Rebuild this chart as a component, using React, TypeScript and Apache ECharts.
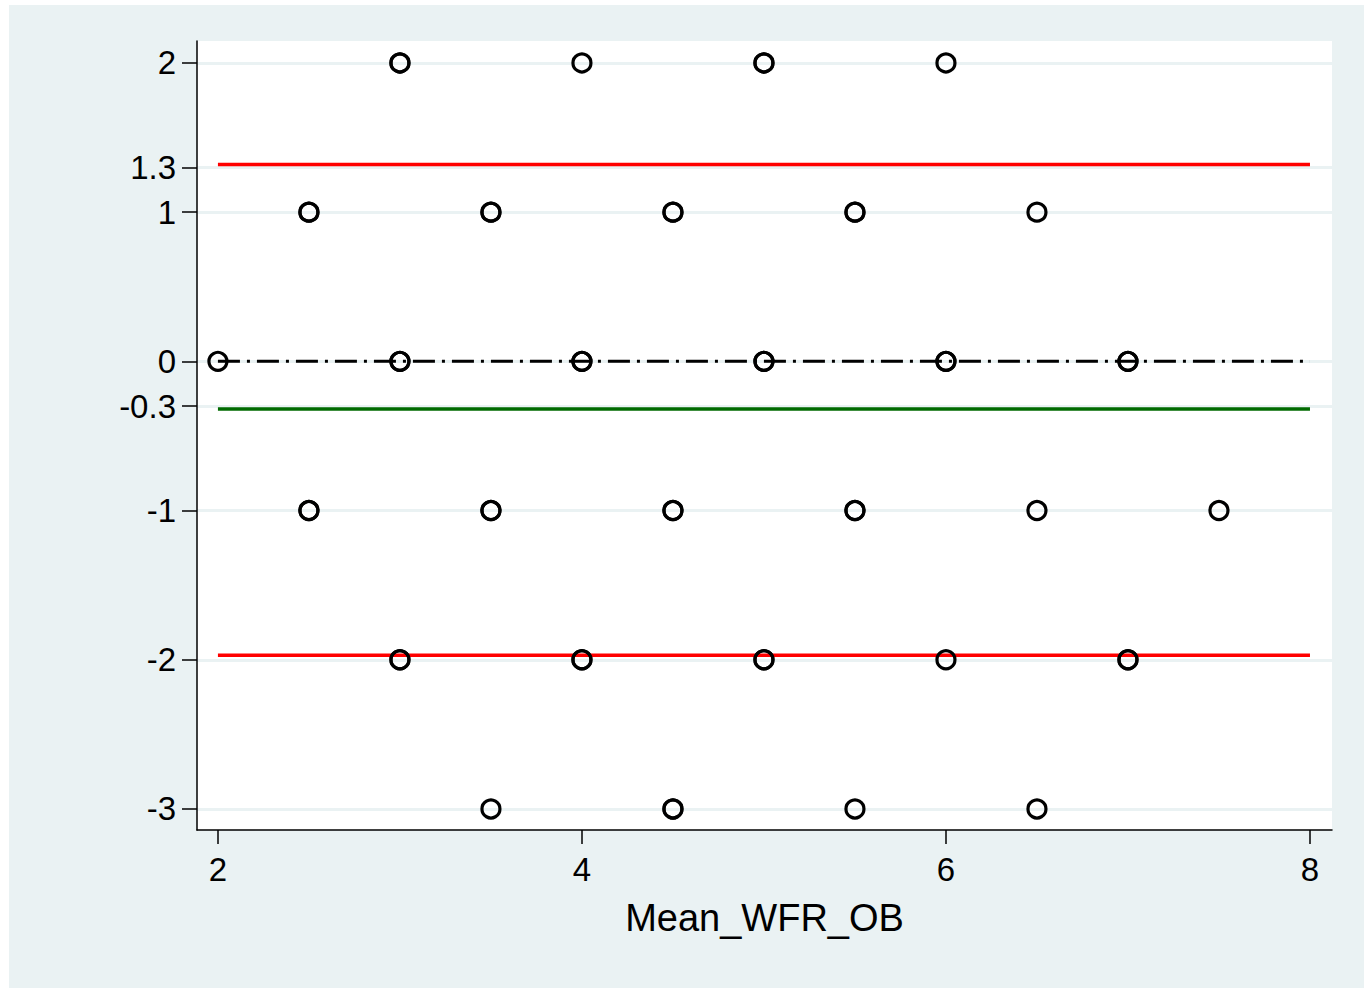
import React, { useEffect, useRef } from "react";
import * as echarts from "echarts";

// Observations: [mean, difference]; repeated pairs are listed twice
const points: number[][] = [
  [3, 2], [3, 2], [4, 2], [5, 2], [5, 2], [6, 2],
  [2.5, 1], [2.5, 1], [3.5, 1], [3.5, 1], [4.5, 1], [4.5, 1], [5.5, 1], [5.5, 1], [6.5, 1],
  [2, 0], [3, 0], [3, 0], [4, 0], [4, 0], [5, 0], [5, 0], [6, 0], [6, 0], [7, 0], [7, 0],
  [2.5, -1], [2.5, -1], [3.5, -1], [3.5, -1], [4.5, -1], [4.5, -1], [5.5, -1], [5.5, -1], [6.5, -1], [7.5, -1],
  [3, -2], [3, -2], [4, -2], [4, -2], [5, -2], [5, -2], [6, -2], [7, -2], [7, -2],
  [3.5, -3], [4.5, -3], [4.5, -3], [5.5, -3], [6.5, -3],
];

const xTicks = [2, 4, 6, 8];
const yTicks = [-3, -2, -1, -0.3, 0, 1, 1.3, 2];
const xRange = [2, 8];
const meanDiff = -0.32;
const upperLoA = 1.32;
const lowerLoA = -1.97;
const zeroLine = 0;
const xMin = 1.885;
const xMax = 8.121;
const yMin = -3.141;
const yMax = 2.147;
const xTitle = "Mean_WFR_OB";

export default function App() {
  const ref = useRef<HTMLDivElement>(null);
  useEffect(() => {
    if (!ref.current) return;
    const chart = echarts.init(ref.current, undefined, { renderer: "svg" });
    const font = "'Liberation Sans', Arial, sans-serif";
    const hline = (v: number) => [[xRange[0], v], [xRange[1], v]];
    chart.setOption({
      animation: false,
      backgroundColor: "#EAF2F3",
      textStyle: { fontFamily: font },
      grid: {
        left: 188,
        top: 36,
        right: 32,
        bottom: 158,
        show: true,
        backgroundColor: "#ffffff",
        borderWidth: 0,
      },
      xAxis: {
        type: "value",
        min: xMin,
        max: xMax,
        name: xTitle,
        nameLocation: "middle",
        nameGap: 69,
        nameTextStyle: { fontSize: 38, color: "#000", fontFamily: font },
        axisLine: { show: true, onZero: false, lineStyle: { color: "#000", width: 1.5 } },
        axisTick: { show: true, inside: false, length: 14, customValues: xTicks, lineStyle: { color: "#000", width: 1.5 } },
        axisLabel: { customValues: xTicks, fontSize: 33, color: "#000", margin: 23, fontFamily: font },
        splitLine: { show: false },
      },
      yAxis: {
        type: "value",
        min: yMin,
        max: yMax,
        axisLine: { show: true, onZero: false, lineStyle: { color: "#000", width: 1.5 } },
        axisTick: { show: true, inside: false, length: 15, customValues: yTicks, lineStyle: { color: "#000", width: 1.5 } },
        axisLabel: { customValues: yTicks, fontSize: 33, color: "#000", margin: 21, fontFamily: font },
        splitLine: { show: false },
      },
      series: [
        {
          type: "line",
          data: [],
          silent: true,
          z: 0,
          markLine: {
            silent: true,
            z: 0,
            symbol: "none",
            label: { show: false },
            lineStyle: { color: "#EAF2F3", width: 3, type: "solid" },
            data: yTicks.map((v) => [{ coord: [xMin, v] }, { coord: [xMax, v] }]),
          },
        },
        {
          type: "line",
          z: 3,
          data: hline(zeroLine),
          symbol: "none",
          lineStyle: { color: "#000", width: 3, type: [22, 7, 3, 7] },
        },
        {
          type: "line",
          z: 3,
          data: hline(upperLoA),
          symbol: "none",
          lineStyle: { color: "#FF0000", width: 3.5 },
        },
        {
          type: "line",
          z: 3,
          data: hline(lowerLoA),
          symbol: "none",
          lineStyle: { color: "#FF0000", width: 3.5 },
        },
        {
          type: "line",
          z: 3,
          data: hline(meanDiff),
          symbol: "none",
          lineStyle: { color: "#006A00", width: 3.5 },
        },
        {
          type: "scatter",
          z: 6,
          data: points,
          symbol: "circle",
          symbolSize: 18,
          itemStyle: { color: "transparent", borderColor: "#000", borderWidth: 3.2, opacity: 1 },
        },
      ],
    });
    return () => chart.dispose();
  }, []);
  return (
    <div
      ref={ref}
      style={{ position: "absolute", left: 9, top: 5, width: 1355, height: 983 }}
    />
  );
}
